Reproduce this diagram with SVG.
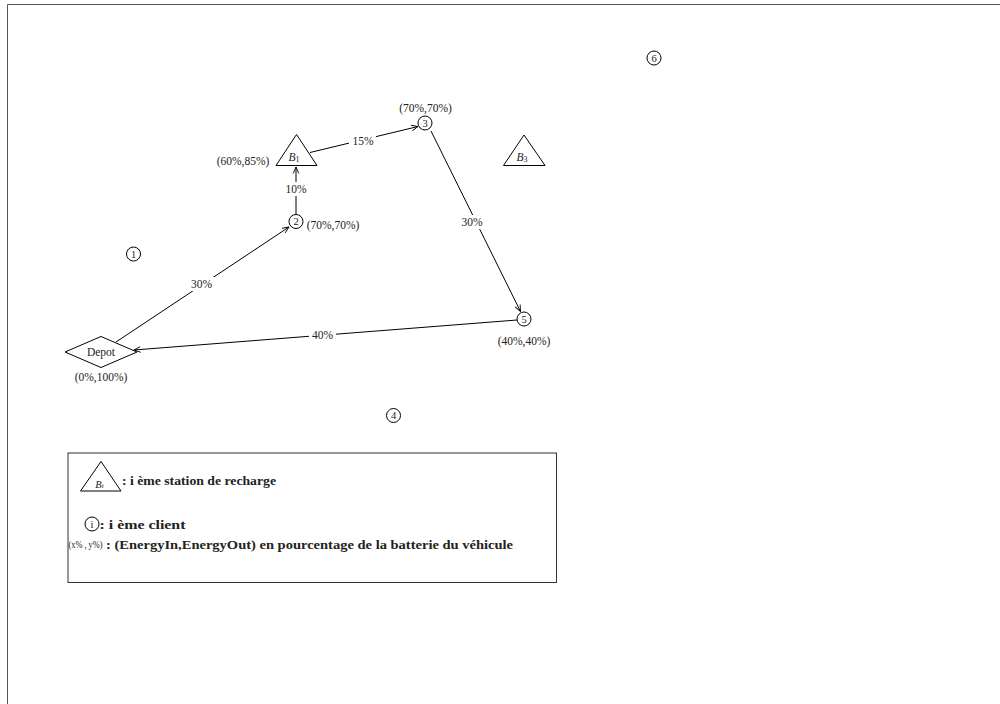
<svg xmlns="http://www.w3.org/2000/svg" width="1000" height="704" viewBox="0 0 1000 704">
<defs>
<marker id="arr" viewBox="0 0 8 8" refX="7.5" refY="4" markerWidth="8" markerHeight="8" markerUnits="userSpaceOnUse" orient="auto">
<path d="M1,1.2 L7.5,4 L1,6.8" fill="none" stroke="#000" stroke-width="0.9"/>
</marker>
<style>
.t{font-family:"Liberation Serif","DejaVu Serif",serif;font-size:11.5px;fill:#222;text-anchor:middle;dominant-baseline:central}
.b{font-weight:bold;text-anchor:start;font-size:11.5px}
.s{fill:#fff;stroke:#000;stroke-width:1}
.e{stroke:#000;stroke-width:1;fill:none;marker-end:url(#arr)}
.bg{fill:#fff}
.n{font-size:10.5px}
</style>
</defs>
<rect width="1000" height="704" fill="#fff"/>
<path d="M7.5,704 V4.5 H1000" fill="none" stroke="#555" stroke-width="1"/>

<g id="edges">
<line class="e" x1="116" y1="342" x2="289" y2="227"/>
<line class="e" x1="296" y1="214" x2="296" y2="167"/>
<line class="e" x1="310" y1="152.5" x2="418" y2="126.5"/>
<line class="e" x1="431" y1="131" x2="520.5" y2="311.5"/>
<line class="e" x1="517" y1="320" x2="134" y2="350"/>
<rect class="bg" x="188" y="277" width="27" height="14"/>
<text class="t" x="201.5" y="284">30%</text>
<rect class="bg" x="284" y="182" width="24" height="14"/>
<text class="t" x="296" y="189">10%</text>
<rect class="bg" x="349" y="134" width="27" height="14"/>
<text class="t" x="363" y="141">15%</text>
<rect class="bg" x="459" y="215" width="27" height="14"/>
<text class="t" x="472" y="222">30%</text>
<rect class="bg" x="309" y="328" width="27" height="14"/>
<text class="t" x="322.5" y="335">40%</text>
</g>

<g id="depot">
<polygon class="s" points="65,352 101,336.5 137,352 101,367.5"/>
<text class="t" x="101" y="352">Depot</text>
<text class="t" x="101" y="377">(0%,100%)</text>
</g>
<g id="n1"><circle class="s" cx="133.5" cy="254" r="7"/><text class="t n" x="133.5" y="254">1</text></g>
<g id="n2"><circle class="s" cx="296" cy="221.5" r="7"/><text class="t n" x="296" y="221.5">2</text><text class="t" x="333" y="225">(70%,70%)</text></g>
<g id="b1">
<polygon class="s" points="296.5,134.5 276,165.5 317,165.5"/>
<text class="t" x="294" y="157" font-style="italic">B<tspan font-size="8" font-style="normal" dy="2">1</tspan></text>
<text class="t" x="243" y="161">(60%,85%)</text>
</g>
<g id="n3"><circle class="s" cx="425" cy="123" r="7"/><text class="t n" x="425" y="123">3</text><text class="t" x="425.5" y="108">(70%,70%)</text></g>
<g id="b3">
<polygon class="s" points="524,135 503.5,165.5 545,165.5"/>
<text class="t" x="522" y="157" font-style="italic">B<tspan font-size="8" font-style="normal" dy="2">3</tspan></text>
</g>
<g id="n4"><circle class="s" cx="393.5" cy="415.5" r="7"/><text class="t n" x="393.5" y="415.5">4</text></g>
<g id="n5"><circle class="s" cx="524" cy="319" r="7"/><text class="t n" x="524" y="319">5</text><text class="t" x="524" y="340.5">(40%,40%)</text></g>
<g id="n6"><circle class="s" cx="654" cy="58" r="7"/><text class="t n" x="654" y="58">6</text></g>

<g id="legend">
<rect x="68" y="453" width="488.5" height="129.5" fill="#fff" stroke="#333" stroke-width="1"/>
<polygon class="s" points="101,461.5 80.5,491 121,491"/>
<text class="t" x="99.5" y="484" font-style="italic" style="font-size:10.5px">B<tspan font-size="7" dy="2">i</tspan></text>
<text class="t b" x="122" y="481" textLength="154" lengthAdjust="spacingAndGlyphs">: i ème station de recharge</text>
<circle class="s" cx="92" cy="524" r="7"/>
<text class="t n" x="92" y="524">i</text>
<text class="t b" x="99.5" y="525" textLength="86" lengthAdjust="spacingAndGlyphs">: i ème client</text>
<text class="t" x="68.5" y="544.5" style="font-size:9.5px;text-anchor:start" textLength="34" lengthAdjust="spacingAndGlyphs">(x% , y%)</text>
<text class="t b" x="106" y="544.5" textLength="407" lengthAdjust="spacingAndGlyphs">: (EnergyIn,EnergyOut) en pourcentage de la batterie du véhicule</text>
</g>
</svg>
